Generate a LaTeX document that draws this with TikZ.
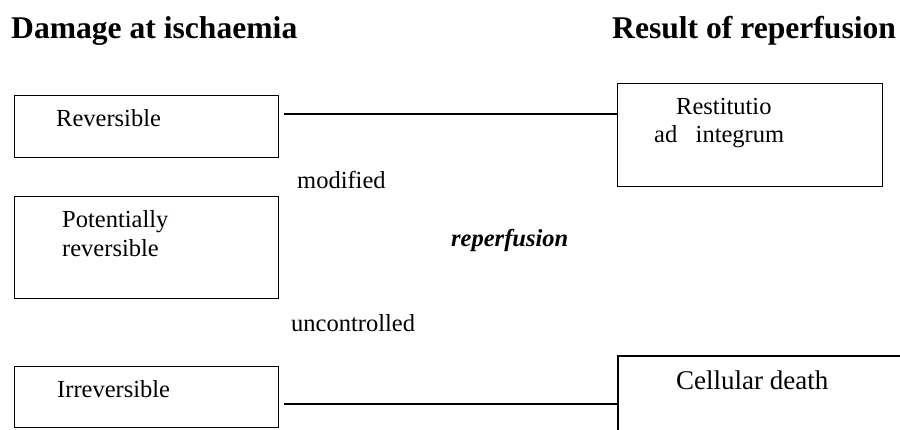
\documentclass[tikz,border=0pt]{standalone}
\usepackage{fontspec}
\setmainfont{Liberation Serif}
\begin{document}
\begin{tikzpicture}[x=1pt,y=1pt,
  boxstyle/.style={draw,line width=1.2pt,rectangle,anchor=north west,inner sep=0pt},
  txt/.style={anchor=base west,inner sep=0pt,font=\fontsize{24.5}{29}\selectfont},
  bigtxt/.style={anchor=base west,inner sep=0pt,font=\fontsize{27}{32}\selectfont},
  head/.style={anchor=base west,inner sep=0pt,font=\fontsize{31.6}{36}\selectfont\bfseries},
  conn/.style={line width=1.2pt}]
\useasboundingbox (0,0) rectangle (900,430);
% headers
\node[head] (h1) at (11,391) {Damage at ischaemia};
\node[head] (h2) at (612,391) {Result of reperfusion};
% boxes
\node[boxstyle,minimum width=264pt,minimum height=62pt] (rev) at (14,335) {};
\node[boxstyle,minimum width=264pt,minimum height=102pt] (pot) at (14,234) {};
\node[boxstyle,minimum width=264pt,minimum height=61pt] (irr) at (14,64) {};
\node[boxstyle,minimum width=265pt,minimum height=103pt] (res) at (617,347) {};
\coordinate (cd) at (618,74);
\draw[conn] (900,74) -- (cd) -- (cd |- 0,0);
% texts
\node[txt] (trev) at (56,303) {Reversible};
\node[txt] (tpot1) at (62,202) {Potentially};
\node[txt] (tpot2) at (62,173) {reversible};
\node[txt] (tirr) at (57,32) {Irreversible};
\node[txt] (tres1) at (676,315) {Restitutio};
\node[txt] (tres2) at (654,287) {ad~~~integrum};
\node[bigtxt] (tcd) at (676,40) {Cellular death};
\node[txt] (tmod) at (297,241) {modified};
\node[txt] (tunc) at (291,98) {uncontrolled};
\node[txt,font=\fontsize{24.5}{29}\selectfont\bfseries\itshape] (trep) at (451,183) {reperfusion};
% connectors
\coordinate (t1) at ([shift={(5pt,-19pt)}]rev.north east);
\draw[conn] (t1) -- (t1 -| res.west);
\coordinate (b1) at ([shift={(5pt,-38pt)}]irr.north east);
\draw[conn] (b1) -- (b1 -| cd);
\end{tikzpicture}
\end{document}
